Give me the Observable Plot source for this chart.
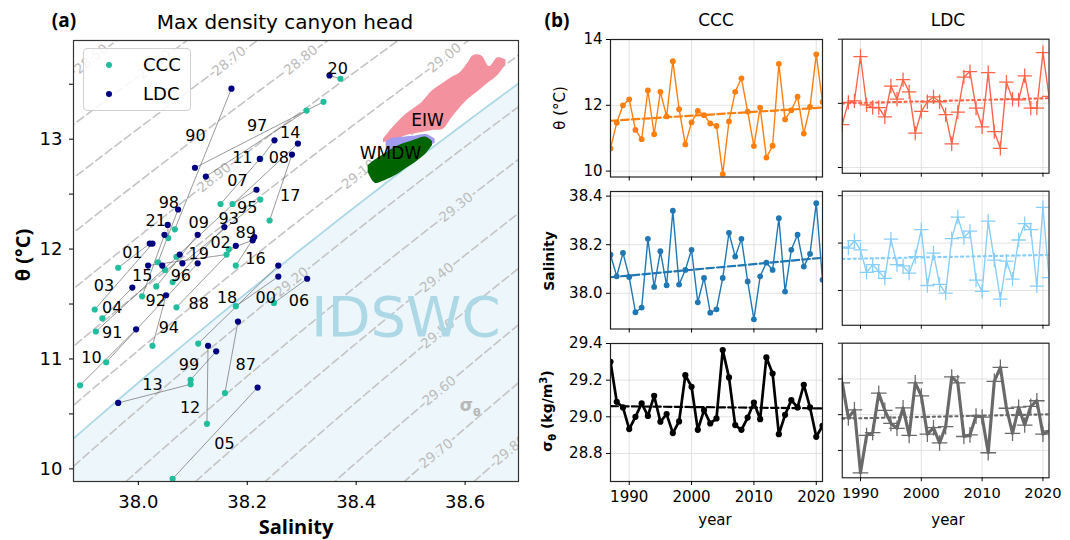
<!DOCTYPE html>
<html><head><meta charset="utf-8">
<script src="https://cdn.jsdelivr.net/npm/d3@7"></script>
<script src="https://cdn.jsdelivr.net/npm/@observablehq/plot@0.6"></script>
<style>
body{margin:0;background:#fff;}
#root{position:relative;width:1070px;height:540px;overflow:hidden;font-family:"DejaVu Sans",sans-serif;background:#fff;}
.abs{position:absolute;}
.abs svg{display:block;overflow:visible;}
</style></head><body><div id="root"></div>
<script>
// ---------------- data ----------------
const years = [1987,1988,1989,1990,1991,1992,1993,1994,1995,1996,1997,1998,1999,2000,2001,2002,2003,2004,2005,2006,2007,2008,2009,2010,2011,2012,2013,2014,2015,2016,2017,2018,2019,2020,2021];
const cccTheta = [10.69,11.47,12.00,12.18,11.25,10.97,12.45,11.12,12.41,11.66,13.34,11.88,10.81,11.48,11.83,11.70,11.45,11.37,9.91,11.51,12.41,12.82,11.81,10.76,11.93,10.41,10.77,13.26,11.57,11.85,12.26,11.14,11.95,13.55,12.10];
const cccSal = [38.159,38.070,38.166,38.067,37.922,37.941,38.224,38.026,38.173,38.033,38.340,38.036,38.096,38.179,37.963,38.063,37.920,37.934,38.063,38.249,38.151,38.224,38.049,37.893,38.070,38.126,38.096,38.309,38.007,38.179,38.241,38.110,38.162,38.371,38.055];
const ldcTheta = [11.34,12.03,12.08,13.46,11.95,11.87,11.87,11.58,12.54,12.13,12.74,12.36,11.07,11.75,12.05,12.20,12.05,11.65,10.74,11.73,12.82,12.99,11.85,11.27,12.96,11.12,10.60,12.66,12.13,12.11,12.86,11.85,11.85,13.58,12.22];
const ldcSal = [38.183,38.179,38.210,38.171,38.076,38.109,38.081,38.051,38.217,38.109,38.104,38.073,38.143,38.257,38.021,38.158,38.026,37.989,38.219,38.310,38.223,38.250,38.044,37.996,38.293,38.128,37.963,38.124,38.048,38.213,38.282,38.257,38.018,38.351,38.054];
const cccSigma = [29.300,29.082,29.051,28.933,29.000,29.073,29.005,29.115,28.973,29.015,28.911,28.975,29.227,29.164,28.929,29.036,28.964,28.991,29.364,29.215,28.955,28.929,28.996,29.078,28.987,29.324,29.236,28.905,29.011,29.091,29.051,29.175,29.051,28.891,28.951];
const ldcSigma = [29.178,28.982,29.027,28.675,28.884,28.900,29.120,29.024,28.951,28.924,29.038,28.884,29.178,29.105,28.891,28.927,28.842,28.933,29.211,29.178,28.878,28.887,28.993,28.987,28.787,29.187,29.265,29.036,28.896,29.042,28.942,29.047,29.078,28.891,28.909];

// trend lines (start 1987, end 2021)
const trendYears = [1987, 2021];
const cccThetaTrend = [11.53, 11.93];
const ldcThetaTrend = [12.00, 12.16];
const cccSalTrend = [38.066, 38.146];
const ldcSalTrend = [38.133, 38.150];
const cccSigmaTrend = [29.058, 29.046];
const ldcSigmaTrend = [28.978, 29.002];

// year label anchor (salinity, theta) in panel (a)
const yearLabelS = [38.197,38.111,38.197,38.105,37.952,38.032,38.166,38.056,38.200,38.078,38.218,38.056,38.093,38.234,37.989,38.151,37.937,37.952,38.158,38.295,38.182,38.258,38.111,37.914,38.191,38.095,38.026,38.279,38.007,38.215,38.279,38.163,38.111,38.366,38.032];
const yearLabelT = [10.948,11.500,12.151,13.030,11.233,11.530,12.273,11.282,12.378,11.757,13.121,12.424,10.948,11.560,11.969,12.060,11.666,11.464,10.227,11.530,12.621,12.833,12.242,11.009,12.833,10.555,10.766,13.060,11.757,11.909,12.485,11.560,11.960,13.636,12.257];

// water masses (salinity, theta lower / upper)
const eiwS  = [38.450,38.470,38.490,38.520,38.540,38.560,38.575,38.590,38.605,38.615,38.630,38.645,38.660,38.675];
const eiwLo = [12.97,12.99,13.03,13.06,13.08,13.09,13.19,13.28,13.36,13.40,13.46,13.52,13.58,13.68];
const eiwHi = [13.00,13.12,13.22,13.33,13.44,13.51,13.56,13.60,13.69,13.76,13.76,13.66,13.74,13.72];
const lswS  = [38.455,38.470,38.490,38.510,38.530,38.545];
const lswLo = [12.80,12.80,12.85,12.90,12.93,12.96];
const lswHi = [12.98,13.01,13.02,13.03,13.04,13.00];
const wmdwS  = [38.422,38.435,38.451,38.469,38.482,38.494,38.512,38.527,38.540];
const wmdwLo = [12.70,12.60,12.62,12.66,12.70,12.74,12.80,12.86,12.94];
const wmdwHi = [12.76,12.81,12.86,12.92,12.95,12.97,13.00,13.02,12.98];

// isopycnals
const isoLevels = [28.5,28.6,28.7,28.8,28.9,29.0,29.1,29.2,29.3,29.4,29.5,29.6,29.7,29.8];
const isoLabelTheta = [13.73,13.68,13.71,13.72,12.65,13.74,12.68,11.70,12.38,11.74,11.23,10.71,10.14,10.17];
const idswcSigma = 29.155;

// axes
const salTicks = [38.0,38.2,38.4,38.6];
const thetaTicksA = [10,10.5,11,11.5,12,12.5,13,13.5];
const yearTicks = [1990,2000,2010,2020];
const thetaTicksB = [10,12,14];
const salTicksB = [38.0,38.2,38.4];
const sigmaTicksB = [28.8,29.0,29.2,29.4];

// colours
const cCCC = "#20be9c", cLDC = "#000080";

// ---------------- helpers ----------------
const root = document.getElementById("root");
function place(svg, left, top){
  const d = document.createElement("div"); d.className="abs";
  d.style.left = left+"px"; d.style.top = top+"px";
  d.appendChild(svg); root.appendChild(d);
}
function label(html, x, y, o={}){
  const d = document.createElement("div"); d.className="abs";
  d.innerHTML = html;
  Object.assign(d.style,{left:x+"px",top:y+"px",fontSize:(o.size||15)+"px",fontWeight:o.weight||400,
    fontFamily:o.family||"DejaVu Sans",color:o.color||"#000",whiteSpace:"nowrap",lineHeight:"1.15",
    transform:`translate(-50%,-50%) rotate(${o.rotate||0}deg)`});
  root.appendChild(d); return d;
}
function rho0(S,T){
  const rw = 999.842594 + 6.793952e-2*T - 9.095290e-3*T**2 + 1.001685e-4*T**3 - 1.120083e-6*T**4 + 6.536332e-9*T**5;
  const A = 0.824493 - 4.0899e-3*T + 7.6438e-5*T**2 - 8.2467e-7*T**3 + 5.3875e-9*T**4;
  const B = -5.72466e-3 + 1.0227e-4*T - 1.6546e-6*T**2;
  return rw + A*S + B*Math.pow(S,1.5) + 4.8314e-4*S*S;
}
function thetaAt(sig,S){ let lo=-5,hi=35; for(let i=0;i<60;i++){const m=(lo+hi)/2; if(rho0(S,m)-1000>sig) lo=m; else hi=m;} return (lo+hi)/2; }
function salAt(sig,T){ let lo=30,hi=45; for(let i=0;i<60;i++){const m=(lo+hi)/2; if(rho0(m,T)-1000<sig) lo=m; else hi=m;} return (lo+hi)/2; }

// ---------------- panel (a) ----------------
const X0=37.881, X1=38.698, Y0=9.885, Y1=13.898;
const sGrid = d3.range(37.80, 38.801, 0.02);
const isoData = isoLevels.flatMap(l => sGrid.map(S => ({level:l, S, T:thetaAt(l,S)})));
const boundary = sGrid.map(S => ({S, T:thetaAt(idswcSigma,S)}));
const bgBlue = "rgb(237,246,250)";
const isoLab = isoLevels.map((l,i)=>({level:l, T:isoLabelTheta[i], S:salAt(l,isoLabelTheta[i])}));
const pairs = years.map((y,i)=>({y, lab:String(y).slice(2), cS:cccSal[i], cT:cccTheta[i], lS:ldcSal[i], lT:ldcTheta[i], xS:yearLabelS[i], xT:yearLabelT[i]}));
const area = (S,lo,hi)=>S.map((s,i)=>({S:s, lo:lo[i], hi:hi[i]}));

const A_ML=73, A_MT=40, A_W=540, A_H=540, A_MR=22, A_MB=59;
const pa = Plot.plot({
  width:A_W, height:A_H, marginLeft:A_ML, marginRight:A_MR, marginTop:A_MT, marginBottom:A_MB,
  x:{domain:[X0,X1], label:null},
  y:{domain:[Y0,Y1], label:null},
  style:{fontFamily:"DejaVu Sans", fontSize:"18px", color:"black", background:"transparent"},
  marks:[
    Plot.areaY(boundary,{x:"S", y1:Y0-2, y2:"T", fill:"lightblue", fillOpacity:0.22, clip:true}),
    Plot.line(isoData,{x:"S", y:"T", z:"level", stroke:"#c4c4c4", strokeWidth:1.6, strokeDasharray:"8,4", clip:true}),
    Plot.line(boundary,{x:"S", y:"T", stroke:"lightblue", strokeWidth:1.8, clip:true}),
    Plot.text(isoLab,{x:"S", y:"T", text:d=>d.level.toFixed(2), rotate:-38.7, fill:"#bcbcbc", fontSize:13.5,
      stroke:d=>d.level>idswcSigma?bgBlue:"white", strokeWidth:5, clip:true}),
    Plot.areaY(area(eiwS,eiwLo,eiwHi),{x:"S", y1:"lo", y2:"hi", fill:"#f4919f", curve:"catmull-rom"}),
    Plot.areaY(area(lswS,lswLo,lswHi),{x:"S", y1:"lo", y2:"hi", fill:"#a39af2", curve:"catmull-rom"}),
    Plot.areaY(area(wmdwS,wmdwLo,wmdwHi),{x:"S", y1:"lo", y2:"hi", fill:"#006400", curve:"catmull-rom"}),
    Plot.text(["IDSWC"],{x:[38.491], y:[11.37], text:d=>d, fill:"lightblue", fontSize:56}),
    Plot.link(pairs,{x1:"cS", y1:"cT", x2:"lS", y2:"lT", stroke:"#555", strokeWidth:0.6}),
    Plot.dot(pairs,{x:"cS", y:"cT", fill:cCCC, r:3.1, clip:true}),
    Plot.dot(pairs,{x:"lS", y:"lT", fill:cLDC, r:3.1, clip:true}),
    Plot.text(pairs,{x:"xS", y:"xT", text:"lab", fill:"black", fontSize:16}),
    Plot.text(["EIW","WMDW"],{x:[38.531,38.463], y:[13.166,12.866], text:d=>d, fill:"black", fontSize:17}),
    Plot.frame({stroke:"#333", strokeWidth:1.2}),
    Plot.axisX({ticks:salTicks, tickSize:4, tickPadding:10, tickFormat:d3.format(".1f"), fontSize:18}),
    Plot.axisY({ticks:thetaTicksA, tickSize:4, tickPadding:7, tickFormat:d=>Number.isInteger(d)?String(d):"", fontSize:18})
  ]
});
place(pa, 0, 0);
const sxA = pa.scale("x"), syA = pa.scale("y");
// sigma-theta tag
label('σ<sub style="font-size:11px">θ</sub>', sxA.apply(38.610), syA.apply(10.548), {size:17, weight:700, color:"#b8b8b8"});

// legend
const leg = document.createElement("div"); leg.className="abs";
Object.assign(leg.style,{left:"83px",top:"48px",width:"106px",height:"61px",background:"rgba(255,255,255,0.85)",border:"1px solid #d0d0d0",borderRadius:"4px"});
root.appendChild(leg);
[["CCC",cCCC,65],["LDC",cLDC,93.5]].forEach(([t,c,y])=>{
  const dot=document.createElement("div"); dot.className="abs";
  Object.assign(dot.style,{left:"106px",top:(y-3)+"px",width:"6px",height:"6px",borderRadius:"50%",background:c});
  root.appendChild(dot);
  const tx=label(t,0,y,{size:18});
  tx.style.transform="translate(0,-50%)"; tx.style.left="143px";
});

// titles for (a)
label("(a)",64,21,{size:19,weight:700,family:"Open Sans"});
label("Max density canyon head",285,22,{size:20});
label("Salinity",296,526,{size:20,weight:700,family:"Open Sans"});
label("θ (°C)",22,255,{size:20,weight:700,family:"Open Sans",rotate:-90});

// ---------------- panel (b) ----------------
function mini(o){
  const ml=50, mr=22, mt=12, mb=34;
  const rows = years.map((y,i)=>({year:y, v:o.values[i]}));
  const trend = trendYears.map((y,i)=>({year:y, v:o.trend[i]}));
  const marks = [
    Plot.gridX({ticks:yearTicks, stroke:"#dadada", strokeOpacity:1, strokeWidth:0.8}),
    Plot.gridY({ticks:o.ticks, stroke:"#dadada", strokeOpacity:1, strokeWidth:0.8}),
    Plot.line(rows,{x:"year", y:"v", stroke:o.color, strokeWidth:o.lw, clip:true}),
    o.plus ? Plot.dot(rows,{x:"year", y:"v", symbol:"plus", stroke:o.color, r:o.r, strokeWidth:1.3, clip:true})
           : Plot.dot(rows,{x:"year", y:"v", fill:o.color, r:o.r, clip:true}),
    Plot.line(trend,{x:"year", y:"v", stroke:o.color, strokeWidth:2.2, strokeDasharray:o.dash, clip:true}),
    Plot.frame({stroke:"#222", strokeWidth:1.2}),
    Plot.axisX({ticks:yearTicks, tickSize:4, tickPadding:6, tickFormat:o.xLab?(d=>String(d)):(()=>""), fontSize:15}),
    Plot.axisY({ticks:o.ticks, tickSize:4, tickPadding:4, tickFormat:o.yLab?o.fmt:(()=>""), fontSize:15})
  ];
  const p = Plot.plot({
    width:ml+o.w+mr, height:mt+o.h+mb, marginLeft:ml, marginRight:mr, marginTop:mt, marginBottom:mb,
    x:{domain:[1987,2021], label:null}, y:{domain:o.dom, label:null},
    style:{fontFamily:"DejaVu Sans", fontSize:"15px", color:"black", background:"transparent"},
    marks
  });
  place(p, o.left-ml, o.top-mt);
}
const colL=[609.5,843], colW=212;
const rowT=[38.5,191,343], rowH=[137.5,137.5,138];
const f1=d3.format(".1f");
const rowsDef=[
  {dom:[9.82,14.0], ticks:thetaTicksB, fmt:d=>String(d),
   ccc:{values:cccTheta, trend:cccThetaTrend, color:"#ff7f0e", lw:1.4, r:2.9},
   ldc:{values:ldcTheta, trend:ldcThetaTrend, color:"tomato", lw:1.4, r:4.8}},
  {dom:[37.853,38.419], ticks:salTicksB, fmt:f1,
   ccc:{values:cccSal, trend:cccSalTrend, color:"#1f77b4", lw:1.4, r:2.9},
   ldc:{values:ldcSal, trend:ldcSalTrend, color:"lightskyblue", lw:1.4, r:4.8}},
  {dom:[28.647,29.4], ticks:sigmaTicksB, fmt:f1,
   ccc:{values:cccSigma, trend:cccSigmaTrend, color:"black", lw:2.7, r:3.1},
   ldc:{values:ldcSigma, trend:ldcSigmaTrend, color:"dimgray", lw:3.2, r:5.2}}
];
rowsDef.forEach((rd,ri)=>{
  mini({...rd.ccc, dom:rd.dom, ticks:rd.ticks, fmt:rd.fmt, dash:"7.5,3.2", plus:false,
        xLab:ri===2, yLab:true, left:colL[0], top:rowT[ri], w:colW, h:rowH[ri]});
  mini({...rd.ldc, dom:rd.dom, ticks:rd.ticks, fmt:rd.fmt, dash:"2.2,3.6", plus:true,
        xLab:ri===2, yLab:false, left:colL[1], top:rowT[ri], w:colW, h:rowH[ri]});
});
label("(b)",557,21,{size:19,weight:700,family:"Open Sans"});
label("CCC",716,21,{size:17});
label("LDC",948,21,{size:17});
label("year",715,521,{size:15});
label("year",948,521,{size:15});
label("θ (°C)",561,108,{size:15,rotate:-90});
label("Salinity",549,261,{size:14,weight:700,rotate:-90});
label('σ<sub style="font-size:10px">θ</sub> (kg/m<sup style="font-size:10px">3</sup>)',548,411,{size:14,weight:700,rotate:-90});
</script></body></html>
